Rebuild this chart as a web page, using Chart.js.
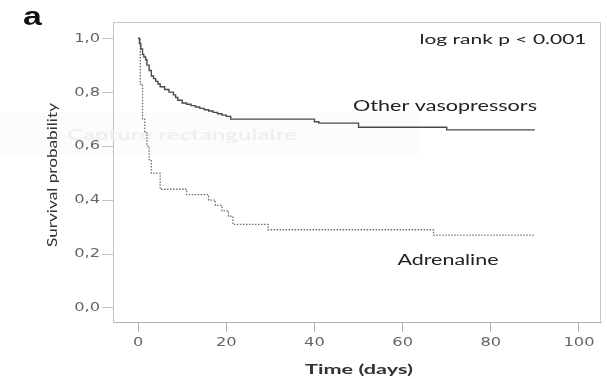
<!DOCTYPE html>
<html>
<head>
<meta charset="utf-8">
<script src="https://cdn.jsdelivr.net/npm/chart.js@4"></script>
<style>
  body { margin: 0; background: #fff; }
  #km { display: block; }
</style>
</head>
<body>
<canvas id="km" width="607" height="379"></canvas>
<script>
// Kaplan-Meier survival curves (time in days)
const otherDays = [0, 0.3, 0.6, 1, 1.3, 1.7, 2, 2.5, 3, 3.5, 4, 4.5, 5, 6, 7, 8, 8.5, 9, 10, 11, 12, 13, 14, 15, 16, 17, 18, 19, 20, 21, 40, 41, 50, 70, 90];
const otherSurv = [1.0, 0.98, 0.96, 0.94, 0.93, 0.92, 0.90, 0.88, 0.86, 0.85, 0.84, 0.83, 0.82, 0.81, 0.80, 0.79, 0.78, 0.77, 0.76, 0.755, 0.75, 0.745, 0.74, 0.735, 0.73, 0.725, 0.72, 0.715, 0.71, 0.70, 0.69, 0.685, 0.67, 0.66, 0.66];

const adrDays = [0, 0.5, 1, 1.5, 2, 2.5, 3, 5, 11, 16, 17.5, 19, 20.5, 21.5, 29.5, 67, 90];
const adrSurv = [1.0, 0.83, 0.70, 0.65, 0.60, 0.55, 0.50, 0.44, 0.42, 0.40, 0.38, 0.36, 0.34, 0.31, 0.29, 0.27, 0.27];

const xTicks = [0, 20, 40, 60, 80, 100];
const yTicks = [0, 0.2, 0.4, 0.6, 0.8, 1.0];

function toPoints(days, surv) {
  return days.map((d, i) => ({ x: d, y: surv[i] }));
}

// draws text squeezed/stretched horizontally by sx
function drawScaled(ctx, text, x, y, font, color, sx, align) {
  ctx.save();
  ctx.font = font;
  ctx.fillStyle = color;
  ctx.textAlign = align;
  ctx.textBaseline = 'middle';
  ctx.translate(x, y);
  ctx.scale(sx, 1);
  ctx.fillText(text, 0, 0);
  ctx.restore();
}

// draws centered text stretched to fill a given width
function drawFit(ctx, text, cx, cy, font, color, width) {
  ctx.save();
  ctx.font = font;
  const sx = width / ctx.measureText(text).width;
  ctx.restore();
  drawScaled(ctx, text, cx, cy, font, color, sx, 'center');
}

const decorations = {
  id: 'decorations',
  beforeDatasetsDraw(chart) {
    const ctx = chart.ctx;
    ctx.save();
    ctx.fillStyle = 'rgba(0,0,0,0.012)';
    ctx.fillRect(0, 113, 420, 42);
    ctx.restore();
    drawFit(ctx, 'Capture rectangulaire', 182, 135, 'bold 16px Lato', '#efefef', 230);
  },
  afterDraw(chart) {
    const { ctx, chartArea: a, scales: { x, y } } = chart;

    // top and right edges of the frame
    ctx.save();
    ctx.strokeStyle = '#c8c8c8';
    ctx.lineWidth = 1;
    ctx.beginPath();
    ctx.moveTo(a.left, a.top + 0.5);
    ctx.lineTo(a.right - 0.5, a.top + 0.5);
    ctx.lineTo(a.right - 0.5, a.bottom);
    ctx.stroke();
    ctx.restore();

    const tickFont = '13px "DejaVu Sans"';
    y.ticks.forEach(t => {
      drawScaled(ctx, t.value.toFixed(1).replace('.', ','), 100, y.getPixelForValue(t.value), tickFont, '#666', 1.25, 'right');
    });
    x.ticks.forEach(t => {
      drawScaled(ctx, String(t.value), x.getPixelForValue(t.value), 343, tickFont, '#666', 1.25, 'center');
    });

    drawFit(ctx, 'Time (days)', 359, 369, 'bold 14px Lato', '#333', 108);

    ctx.save();
    ctx.translate(53, 175);
    ctx.rotate(-Math.PI / 2);
    drawFit(ctx, 'Survival probability', 0, 0, '13px Lato', '#333', 144);
    ctx.restore();

    drawScaled(ctx, 'a', 23, 18, 'bold 26px "Liberation Sans"', '#111', 1.3, 'left');
    drawFit(ctx, 'log rank p < 0.001', 503, 39, '14px Lato', '#222', 167);
    drawFit(ctx, 'Other vasopressors', 445, 106, '14.5px Lato', '#222', 184);
    drawFit(ctx, 'Adrenaline', 448, 260, '14.5px Lato', '#222', 101);
  }
};

new Chart(document.getElementById('km'), {
  type: 'line',
  data: {
    datasets: [
      {
        label: 'Other vasopressors',
        data: toPoints(otherDays, otherSurv),
        stepped: true,
        borderColor: '#4a4a4a',
        borderWidth: 1.4,
        pointRadius: 0,
        fill: false
      },
      {
        label: 'Adrenaline',
        data: toPoints(adrDays, adrSurv),
        stepped: true,
        borderColor: '#707070',
        borderWidth: 1.3,
        borderDash: [1.5, 1.5],
        pointRadius: 0,
        fill: false
      }
    ]
  },
  options: {
    responsive: false,
    animation: false,
    devicePixelRatio: 1,
    layout: { padding: { top: 22, right: 6, left: 0, bottom: 0 } },
    plugins: {
      legend: { display: false },
      tooltip: { enabled: false }
    },
    scales: {
      x: {
        type: 'linear',
        min: -5.7,
        max: 105,
        afterBuildTicks: s => { s.ticks = xTicks.map(v => ({ value: v })); },
        afterFit: s => { s.height = 57; },
        ticks: { display: false },
        grid: { drawOnChartArea: false, drawTicks: true, tickLength: 10, color: '#b4b4b4' },
        border: { color: '#b0b0b0' }
      },
      y: {
        type: 'linear',
        min: -0.052,
        max: 1.06,
        afterBuildTicks: s => { s.ticks = yTicks.map(v => ({ value: v })); },
        afterFit: s => { s.width = 113; },
        ticks: { display: false },
        grid: { drawOnChartArea: false, drawTicks: true, tickLength: 11, color: '#c4c4c4' },
        border: { color: '#c4c4c4' }
      }
    }
  },
  plugins: [decorations]
});
</script>
</body>
</html>
